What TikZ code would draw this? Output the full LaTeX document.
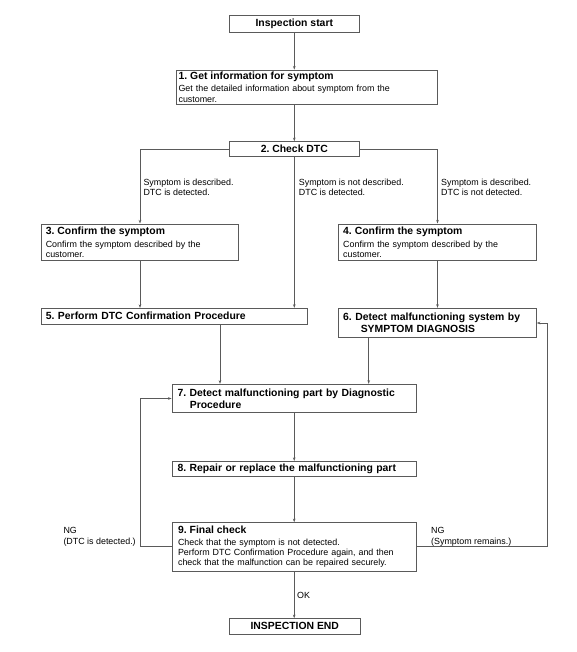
\documentclass[tikz,border=0pt]{standalone}
\usepackage{fontspec}
\setmainfont{Liberation Sans}
\usetikzlibrary{arrows.meta}
\definecolor{lncol}{HTML}{5A5A5A}
\newcommand{\ttlfont}{\fontsize{10.4}{12}\selectfont\bfseries}
\newcommand{\bdyfont}{\fontsize{8.9}{10.2}\selectfont}
\frenchspacing
\begin{document}
\frenchspacing
\begin{tikzpicture}[x=1pt,y=-1pt,
  box/.style={draw=lncol, line width=0.9pt, inner xsep=4.5pt, inner ysep=0pt, align=left, font=\bdyfont, text=black},
  cbox/.style={draw=lncol, line width=0.9pt, inner sep=0pt, align=center, font=\ttlfont, text=black},
  arr/.style={draw=lncol, line width=0.8pt, -{Stealth[length=3.6pt,width=2.6pt]}},
  lbl/.style={inner sep=0pt, align=left, font=\bdyfont, anchor=north west, text=black}]
\useasboundingbox (0,0) rectangle (577,652);

% boxes
\node[cbox, minimum width=130, minimum height=16.6] (start) at (294.3,24) {Inspection start};
\node[box, inner xsep=2.5pt, text width=256.3, minimum height=34.3] (b1) at (306.7,87.2)
  {{\ttlfont 1. Get information for symptom}\\[2.1pt]Get the detailed information about symptom from the\\customer.};
\node[cbox, minimum width=130, minimum height=14.6] (b2) at (294.3,149) {2. Check DTC};
\node[box, text width=188.4, minimum height=36.7] (b3) at (140,242.3)
  {{\ttlfont 3. Confirm the symptom}\\[2.1pt]Confirm the symptom described by the\\customer.};
\node[box, text width=188.6, minimum height=36.7] (b4) at (437.5,242.3)
  {{\ttlfont 4. Confirm the symptom}\\[2.1pt]Confirm the symptom described by the\\customer.};
\node[box, font=\ttlfont, text width=256.7, minimum height=15.7] (b5) at (174.2,316.2)
  {5. Perform DTC Confirmation Procedure};
\node[box, font=\ttlfont, text width=188.6, minimum height=29.4] (b6) at (437.5,323)
  {6. Detect malfunctioning system by\\[-0.4pt]\hspace*{17.6pt}SYMPTOM DIAGNOSIS};
\node[box, font=\ttlfont, inner xsep=5.5pt, text width=233.3, minimum height=28.4] (b7) at (294.2,398.5)
  {7. Detect malfunctioning part by Diagnostic\\[0.3pt]\hspace*{12.3pt}Procedure};
\node[box, font=\ttlfont, inner xsep=5.5pt, text width=233.3, minimum height=14.6] (b8) at (294.2,468.7)
  {8. Repair or replace the malfunctioning part};
\node[box, inner xsep=6pt, text width=232.3, minimum height=48.3] (b9) at (294.2,546.8)
  {{\ttlfont 9. Final check}\\[1.5pt]Check that the symptom is not detected.\\Perform DTC Confirmation Procedure again, and then\\check that the malfunction can be repaired securely.};
\node[cbox, minimum width=131, minimum height=15.3] (end) at (294.8,626.3) {INSPECTION END};

% labels
\node[lbl] (l1) at (143.3,178.4) {Symptom is described.\\DTC is detected.};
\node[lbl] (l2) at (298.7,178.4) {Symptom is not described.\\DTC is detected.};
\node[lbl] (l3) at (441,178.4) {Symptom is described.\\DTC is not detected.};
\node[lbl] (ngl) at (63.3,527.5) {NG\\[0.6pt](DTC is detected.)};
\node[lbl] (ngr) at (431,527.5) {NG\\[0.6pt](Symptom remains.)};
\node[lbl] (ok) at (297,591.8) {OK};

% helper coordinates
\coordinate (c5) at (220,0);
\coordinate (c6) at (368.7,0);
\coordinate (lx) at (140,0);
\coordinate (rx) at (547,0);

% connectors
\draw[arr] (start.south) -- (start.south |- b1.north);
\draw[arr] (b2.north |- b1.south) -- (b2.north);
\draw[arr] (b2.west) -| (b3.north);
\draw[arr] (b2.east) -| (b4.north);
\draw[arr] (b2.south) -- (b2.south |- b5.north);
\draw[arr] (b3.south) -- (b3.south |- b5.north);
\draw[arr] (b4.south) -- (b6.north);
\draw[arr] (c5 |- b5.south) -- (c5 |- b7.north);
\draw[arr] (c6 |- b6.south) -- (c6 |- b7.north);
\draw[arr] (b7.south) -- (b8.north);
\draw[arr] (b8.south) -- (b9.north);
\draw[arr] (b9.south) -- (b9.south |- end.north);
\draw[arr] (b9.west) -- (lx |- b9.west) -- (lx |- b7.west) -- (b7.west);
\draw[arr] (b9.east) -- (rx |- b9.east) -- (rx |- b6.east) -- (b6.east);
\end{tikzpicture}
\end{document}
